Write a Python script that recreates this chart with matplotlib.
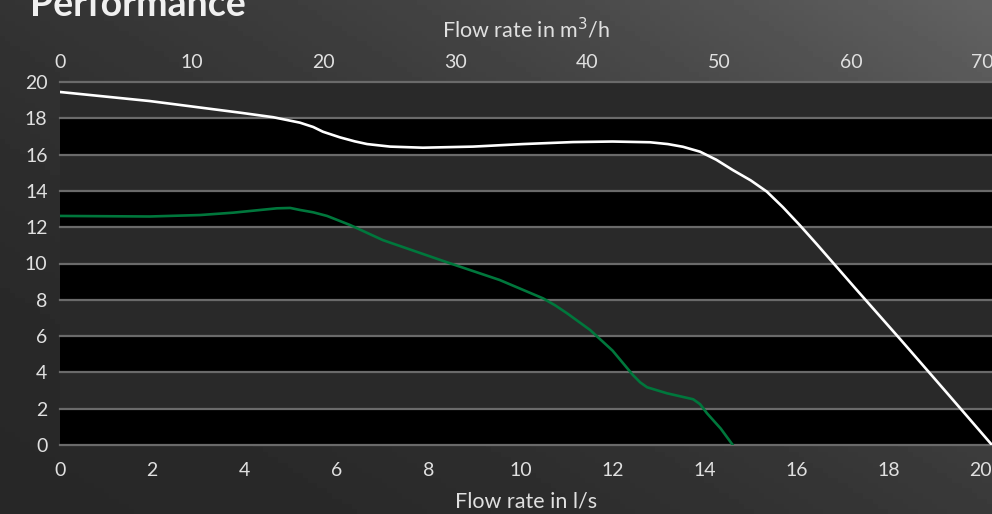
import numpy as np
import matplotlib.pyplot as plt

plt.rcParams['font.family'] = ['Lato', 'DejaVu Sans']

# flow in l/s vs head (m)
x_white = [0, 1.95, 3.91, 4.63, 5.21, 5.50, 5.71, 6.08, 6.40, 6.67, 7.17, 7.88, 8.97, 10.05, 11.14,
           12.0, 12.81, 13.2, 13.53, 13.9, 14.25, 14.61, 15.0, 15.35, 15.7, 16.07, 16.44,
           17.3, 18.24, 19.2, 20.24]
y_white = [19.45, 18.95, 18.31, 18.06, 17.76, 17.52, 17.26, 16.95, 16.73, 16.58, 16.44, 16.38,
           16.44, 16.58, 16.69, 16.72, 16.68, 16.58, 16.43, 16.16, 15.72, 15.15, 14.58, 13.96,
           13.1, 12.1, 11.05, 8.55, 5.85, 3.05, 0]

x_green = [0, 1.95, 3.04, 3.76, 4.71, 5.0, 5.21, 5.50, 5.80, 6.30, 7.01, 8.47, 9.55, 10.49,
           10.75, 11.01, 11.51, 12.0, 12.44, 12.6, 12.75, 13.18, 13.75, 13.9, 14.05, 14.35, 14.61]
y_green = [12.62, 12.59, 12.67, 12.8, 13.04, 13.06, 12.95, 12.82, 12.62, 12.12, 11.29, 10.01,
           9.09, 8.08, 7.7, 7.26, 6.34, 5.2, 3.86, 3.45, 3.18, 2.85, 2.52, 2.25, 1.75, 0.9, 0]

ls_ticks = [0, 2, 4, 6, 8, 10, 12, 14, 16, 18, 20]
m3h_ticks = [0, 10, 20, 30, 40, 50, 60, 70]
head_ticks = [0, 2, 4, 6, 8, 10, 12, 14, 16, 18, 20]

W, H = 992, 514
fig = plt.figure(figsize=(W / 100, H / 100), dpi=100)

# background gradient: dark bottom-left, lighter top-right
bg = fig.add_axes([0, 0, 1, 1])
gx, gy = np.meshgrid(np.linspace(0, 1, 200), np.linspace(1, 0, 100))
t = 0.55 * gx + 0.45 * gy
g = 0.155 + 0.23 * t ** 2
bg.imshow(g, cmap='gray', vmin=0, vmax=1, extent=[0, 1, 0, 1],
          aspect='auto', origin='upper')
bg.set_axis_off()

left, right = 60 / W, 1.0
bottom, top = 1 - 445 / H, 1 - 82 / H
ax = fig.add_axes([left, bottom, right - left, top - bottom])
ax.set_facecolor('none')
ax.set_xlim(0, 20.24)
ax.set_ylim(0, 20)

for i in range(len(head_ticks) - 1):
    c = '#000000' if i % 2 == 0 else '#292929'
    ax.axhspan(head_ticks[i], head_ticks[i + 1], color=c, zorder=0, lw=0)
for h in head_ticks:
    ax.axhline(h, color='#6a6a6a', lw=1.6, zorder=1, clip_on=False)

ax.plot(x_white, y_white, color='white', lw=1.9, zorder=3, solid_joinstyle='round')
ax.plot(x_green, y_green, color='#00773c', lw=1.9, zorder=3, solid_joinstyle='round')

for s in ax.spines.values():
    s.set_visible(False)
ax.set_xticks(ls_ticks)
ax.set_yticks(head_ticks)
ax.tick_params(length=0, colors='#e0e0e0', labelsize=14)
ax.tick_params(axis='x', pad=12)
ax.tick_params(axis='y', pad=9)
ax.set_xlabel('Flow rate in l/s', color='#e0e0e0', fontsize=15.5, labelpad=9)

top_ax = ax.twiny()
top_ax.set_xlim(0, 70.7)
top_ax.set_xticks(m3h_ticks)
for s in top_ax.spines.values():
    s.set_visible(False)
top_ax.tick_params(length=0, colors='#e0e0e0', labelsize=14, pad=8)
top_ax.set_xlabel('Flow rate in m$^3$/h', color='#e0e0e0', fontsize=15.5, labelpad=12)

fig.text(30 / W, 1 - 16 / H, 'Performance', color='#f0f0f0', fontsize=27,
         fontweight='bold', ha='left', va='baseline')

fig.savefig('out.png', dpi=100)
